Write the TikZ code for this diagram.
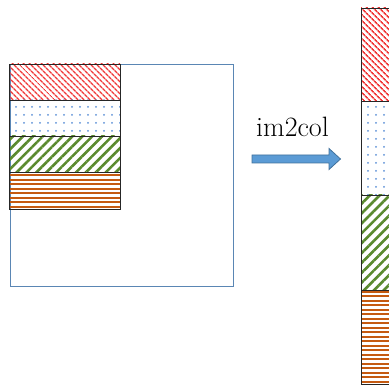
\documentclass[tikz,border=0pt]{standalone}
\usetikzlibrary{patterns.meta}
\definecolor{sqblue}{HTML}{5A86B4}
\definecolor{hred}{HTML}{F03838}
\definecolor{hgreen}{HTML}{5A8A2E}
\definecolor{horange}{HTML}{C55A11}
\definecolor{hdot}{HTML}{5C8FD6}
\definecolor{arfill}{HTML}{5B9BD5}
\definecolor{arline}{HTML}{41719C}
\tikzset{
  redfill/.style={pattern={Lines[angle=-45,distance=4pt,line width=1.6pt]},pattern color=hred},
  dotfill/.style={pattern={Dots[radius=1pt,distance=8pt]},pattern color=hdot},
  greenfill/.style={pattern={Lines[angle=45,distance=7pt,line width=2.6pt]},pattern color=hgreen},
  orangeline/.style={horange,line width=2pt},
  cellbox/.style={draw=black!85,line width=0.8pt},
}
\begin{document}
\begin{tikzpicture}[x=1pt,y=1pt]
\useasboundingbox (0,0) rectangle (389,387);
\clip (0,0) rectangle (389,387);
% big square
\draw[sqblue,line width=1pt] (10,100) rectangle (233,322);
% left stack
\path[redfill] (9,287) rectangle (120,323);
\path[dotfill] (9,251) rectangle (120,287);
\path[greenfill] (9,215) rectangle (120,251);
\begin{scope}
  \clip (9,178) rectangle (120,215);
  \foreach \y in {180,184.5,...,215} \draw[orangeline] (9,\y) -- (120,\y);
\end{scope}
\draw[cellbox] (9,287) rectangle (120,323);
\draw[cellbox] (9,251) rectangle (120,287);
\draw[cellbox] (9,215) rectangle (120,251);
\draw[cellbox] (9,178) rectangle (120,215);
% right column
\path[redfill] (361,286) rectangle (420,379);
\path[dotfill] (361,192) rectangle (420,286);
\path[greenfill] (361,97) rectangle (420,192);
\begin{scope}
  \clip (361,3) rectangle (420,97);
  \foreach \y in {5,9.5,...,97} \draw[orangeline] (361,\y) -- (420,\y);
\end{scope}
\draw[cellbox] (361,286) rectangle (420,379);
\draw[cellbox] (361,192) rectangle (420,286);
\draw[cellbox] (361,97) rectangle (420,192);
\draw[cellbox] (361,3) rectangle (420,97);
% arrow
\draw[fill=arfill,draw=arline,line width=0.8pt]
  (252,232) -- (329,232) -- (329,238.5) -- (340.5,228) -- (329,217.5) -- (329,224) -- (252,224) -- cycle;
\node[anchor=base,font=\fontsize{28}{32}\selectfont,inner sep=0pt] (lbl) at (292.5,250) {im2col};
\end{tikzpicture}
\end{document}
